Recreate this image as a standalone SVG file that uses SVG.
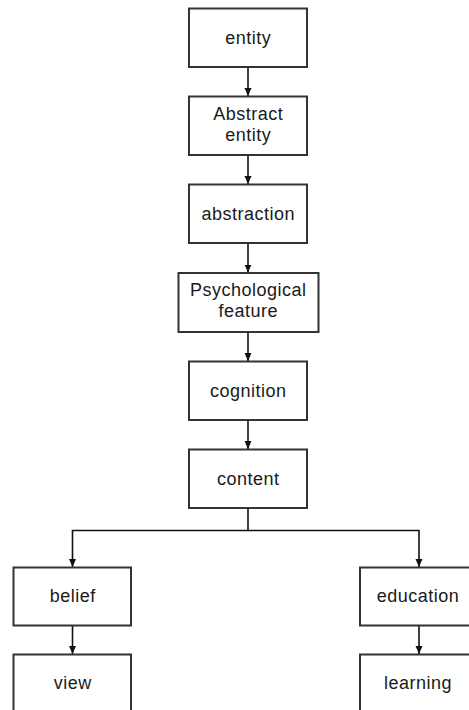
<svg xmlns="http://www.w3.org/2000/svg" width="469" height="710" viewBox="0 0 469 710">
  <style>
    .box { fill: #ffffff; stroke: #333333; stroke-width: 2; }
    .lbl { font-family: "Liberation Sans", Arial, sans-serif; font-size: 18px; letter-spacing: 0.5px; fill: #1a1a1a; text-anchor: middle; }
    .edge { fill: none; stroke: #111111; stroke-width: 1.6; }
  </style>
  <defs>
    <marker id="arrow" viewBox="0 0 8 8" refX="8" refY="4" markerWidth="8" markerHeight="8" markerUnits="userSpaceOnUse" orient="auto">
      <path d="M0,0.5 L8,4 L0,7.5 Z" fill="#111111"/>
    </marker>
  </defs>
  <rect width="469" height="710" fill="#ffffff"/>

  <g id="connectors">
    <path class="edge" d="M248 67.5 V96" marker-end="url(#arrow)"/>
    <path class="edge" d="M248 155.5 V184" marker-end="url(#arrow)"/>
    <path class="edge" d="M248 243.5 V272.5" marker-end="url(#arrow)"/>
    <path class="edge" d="M248 332.5 V361" marker-end="url(#arrow)"/>
    <path class="edge" d="M248 420.5 V449" marker-end="url(#arrow)"/>
    <path class="edge" d="M248 508.5 V530.5 H72.5 V567" marker-end="url(#arrow)"/>
    <path class="edge" d="M248 530.5 H419 V567" marker-end="url(#arrow)"/>
    <path class="edge" d="M72.5 626 V654" marker-end="url(#arrow)"/>
    <path class="edge" d="M419 626 V654" marker-end="url(#arrow)"/>
  </g>

  <g id="entity">
    <rect class="box" x="189" y="8.5" width="118" height="58.5"/>
    <text class="lbl" x="248.3" y="43.5">entity</text>
  </g>
  <g id="abstract-entity">
    <rect class="box" x="189" y="96.5" width="118" height="58.5"/>
    <text class="lbl" x="248.3" y="119.5">Abstract</text>
    <text class="lbl" x="248.3" y="141">entity</text>
  </g>
  <g id="abstraction">
    <rect class="box" x="189" y="184.5" width="118" height="58.5"/>
    <text class="lbl" x="248.3" y="219.5">abstraction</text>
  </g>
  <g id="psychological-feature">
    <rect class="box" x="178.5" y="273" width="140" height="59"/>
    <text class="lbl" x="248.3" y="295.5">Psychological</text>
    <text class="lbl" x="248.3" y="317">feature</text>
  </g>
  <g id="cognition">
    <rect class="box" x="189" y="361.5" width="118" height="58.5"/>
    <text class="lbl" x="248.3" y="396.5">cognition</text>
  </g>
  <g id="content">
    <rect class="box" x="189" y="449.5" width="118" height="58.5"/>
    <text class="lbl" x="248.3" y="484.5">content</text>
  </g>
  <g id="belief">
    <rect class="box" x="13.5" y="567.5" width="117.5" height="58"/>
    <text class="lbl" x="72.8" y="602">belief</text>
  </g>
  <g id="education">
    <rect class="box" x="360" y="567.5" width="118" height="58"/>
    <text class="lbl" x="418" y="602">education</text>
  </g>
  <g id="view">
    <rect class="box" x="13.5" y="654.5" width="117.5" height="58"/>
    <text class="lbl" x="72.8" y="689">view</text>
  </g>
  <g id="learning">
    <rect class="box" x="360" y="654.5" width="118" height="58"/>
    <text class="lbl" x="418" y="689">learning</text>
  </g>
</svg>
